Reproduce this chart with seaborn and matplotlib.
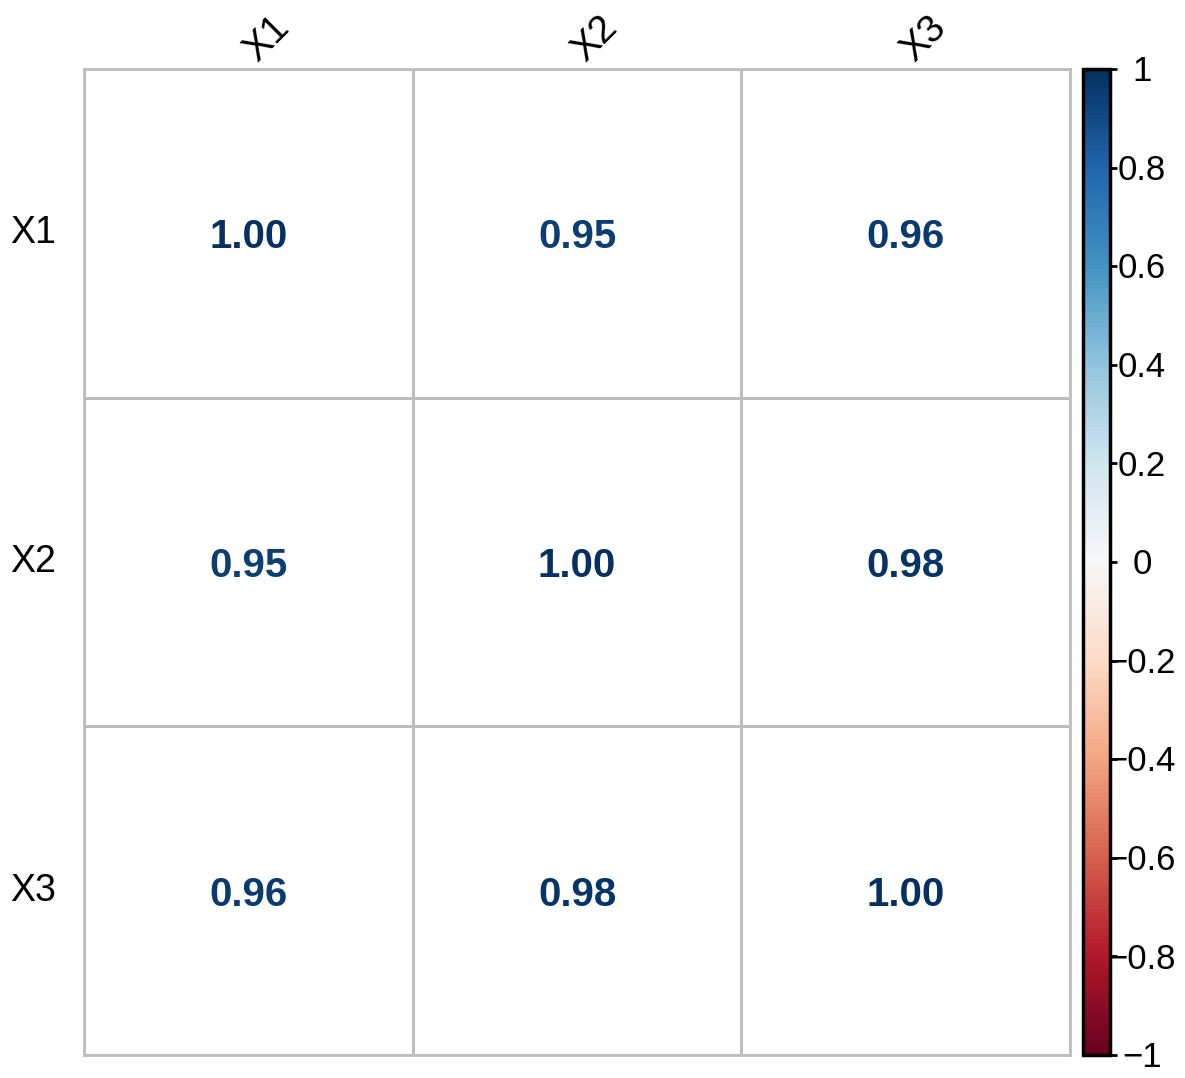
import numpy as np
import pandas as pd
import matplotlib
matplotlib.use("Agg")
import matplotlib.pyplot as plt
import matplotlib as mpl
import seaborn as sns
from matplotlib.colors import ListedColormap, Normalize

# data
variables = ["X1", "X2", "X3"]
row_x1 = [1.00, 0.95, 0.96]
row_x2 = [0.95, 1.00, 0.98]
row_x3 = [0.96, 0.98, 1.00]
cbar_ticks = [-1, -0.8, -0.6, -0.4, -0.2, 0, 0.2, 0.4, 0.6, 0.8, 1]
cbar_labels = ["\u22121", "\u22120.8", "\u22120.6", "\u22120.4", "\u22120.2", "0",
               "0.2", "0.4", "0.6", "0.8", "1"]

corr = pd.DataFrame([row_x1, row_x2, row_x3], index=variables, columns=variables)

sns.set_style("white")
plt.rcParams['font.family'] = ['Liberation Sans', 'DejaVu Sans']

W, H = 1185, 1078
fig = plt.figure(figsize=(W / 100, H / 100), dpi=100)
fig.patch.set_facecolor('white')

# main grid axes
x0, x1, y0, y1 = 84, 1070, 69, 1055
ax = fig.add_axes([x0 / W, 1 - y1 / H, (x1 - x0) / W, (y1 - y0) / H])
cmap = plt.get_cmap("RdBu")
norm = Normalize(-1, 1)

sns.heatmap(corr, ax=ax, cmap=ListedColormap(["white"]), cbar=False, annot=True, fmt=".2f",
            linewidths=2, linecolor="#BEBEBE",
            annot_kws=dict(fontsize=29, fontweight="bold"))
vals = corr.values.ravel()
for txt, v in zip(ax.texts, vals):
    txt.set_color(cmap(norm(v)))
    px, py = txt.get_position()
    txt.set_position((px, py + 0.012))

for sp in ax.spines.values():
    sp.set_visible(True)
    sp.set_color("#BEBEBE")
    sp.set_linewidth(2)

ax.set_xlabel("")
ax.set_ylabel("")
ax.set_xticks([])
ax.set_yticks(np.arange(len(variables)) + 0.5)
ax.set_yticklabels(variables, rotation=0, fontsize=27)
ax.tick_params(axis="y", length=0, pad=20, colors="black")

# rotated column labels on top
for i, name in enumerate(variables):
    ax.annotate(name, xy=(i + 0.5, 0), xycoords="data", xytext=(6, 4),
                textcoords="offset points", rotation=45, rotation_mode="anchor",
                ha="left", va="baseline", fontsize=28, color="black",
                annotation_clip=False)

# colour legend
cax = fig.add_axes([1083 / W, 1 - y1 / H, 27 / W, (y1 - y0) / H])
sm = mpl.cm.ScalarMappable(norm=norm, cmap=cmap)
cb = fig.colorbar(sm, cax=cax)
cb.outline.set_linewidth(2.5)
cb.outline.set_edgecolor("black")
cb.set_ticks(cbar_ticks)
cb.set_ticklabels([""] * len(cbar_ticks))
cax.tick_params(axis="y", length=5, width=2, pad=0, colors="black")
for t, lab in zip(cbar_ticks, cbar_labels):
    cax.annotate(lab, xy=(1.0, t), xycoords=cax.get_yaxis_transform(),
                 xytext=(23, -2), textcoords="offset points",
                 ha="center", va="center", fontsize=25, color="black",
                 annotation_clip=False)

fig.savefig("out.png", dpi=100, facecolor="white")
